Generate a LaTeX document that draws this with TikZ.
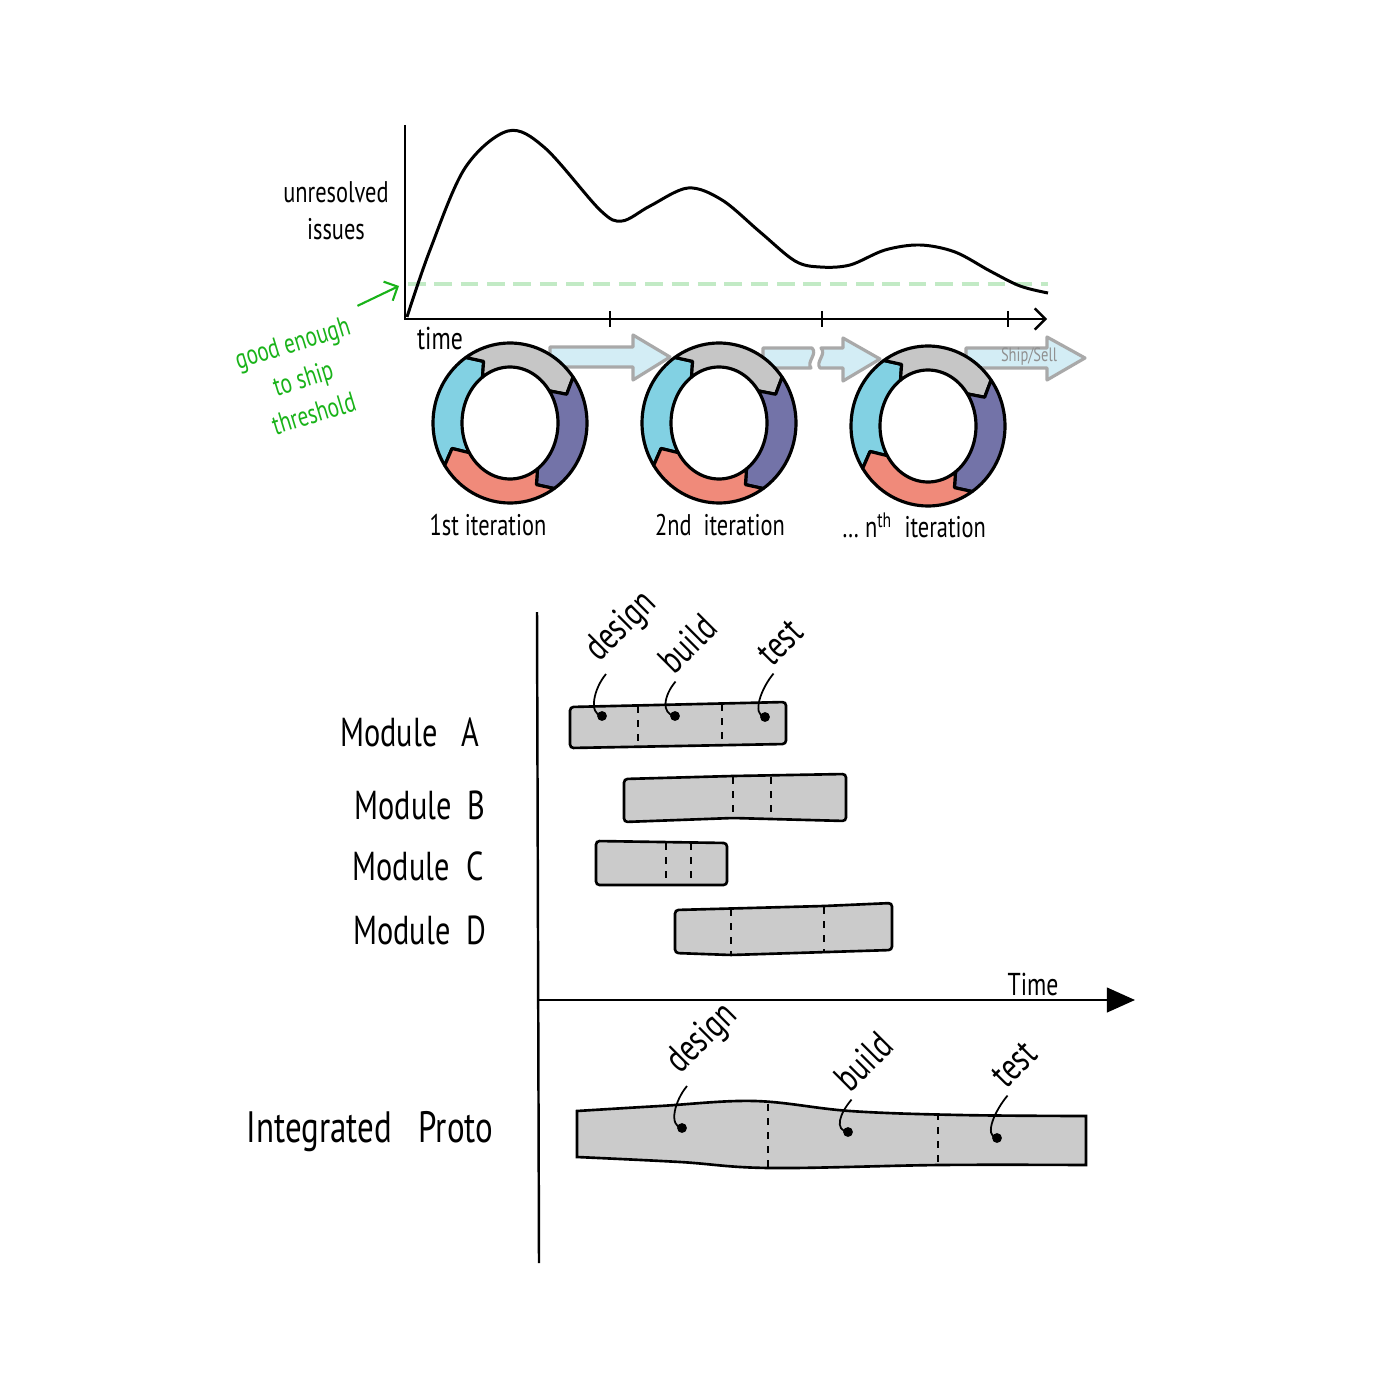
\documentclass[tikz,border=0pt]{standalone}
\usepackage{fontspec}
\setmainfont{PT Sans}
\usetikzlibrary{arrows.meta}
\definecolor{ringgray}{HTML}{C6C6C6}
\definecolor{ringblue}{HTML}{82D1E3}
\definecolor{ringpurple}{HTML}{7373A8}
\definecolor{ringsalmon}{HTML}{F08A7A}
\definecolor{flowfill}{HTML}{D3EDF5}
\definecolor{flowline}{HTML}{A9A9A9}
\definecolor{barfill}{HTML}{CBCBCB}
\definecolor{shipgreen}{HTML}{19B319}
\definecolor{threshgreen}{HTML}{C2EAC5}

% one quarter of an iteration ring, from angle #1 to #2
\newcommand{\ringpart}[3]{%
  \filldraw[fill=#3, ringline]
    plot[domain=#1:#2, samples=30] ({77*cos(\x)},{80*sin(\x)})
    -- ({62.5*cos(#2+10)},{68*sin(#2+10)})
    -- plot[domain=#2:#1, samples=30] ({48*cos(\x)},{56*sin(\x)})
    -- ({62.5*cos(#1+10)},{68*sin(#1+10)}) -- cycle;}
\newcommand{\iterring}[1]{%
  \begin{scope}[shift={(#1)}]
    \ringpart{148}{235}{ringblue}
    \ringpart{235}{325}{ringgray}
    \ringpart{325}{415}{ringpurple}
    \ringpart{415}{508}{ringsalmon}
  \end{scope}}

\begin{document}
\begin{tikzpicture}[%
    x = 0.1mm, y = -0.1mm,
    semithick,
    >= {Straight Barb[length=3pt, width=6pt]},
    hand/.style = {xscale=0.75, inner sep=1pt},
    note/.style = {hand, font=\fontsize{8.5}{11}\selectfont},
    module/.style = {hand, font=\fontsize{11.5}{13}\selectfont},
    phase/.style = {hand, font=\fontsize{11}{13}\selectfont},
    axis/.style = {line width=0.7pt},
    chartline/.style = {line width=0.85pt, line join=round},
    threshold/.style = {threshgreen, line width=0.9pt, dash pattern=on 5pt off 2.5pt},
    ringline/.style = {line width=0.9pt, line join=round},
    flow/.style = {fill=flowfill, draw=flowline, line width=0.9pt, line join=round},
    ganttbar/.style = {fill=barfill, draw=black, line width=0.75pt, rounded corners=1pt},
    divider/.style = {dash pattern=on 2pt off 2pt, line width=0.5pt},
    leader/.style = {line width=0.5pt}
  ]

  \fill[white] (0,0) rectangle (1379,1379);
  \useasboundingbox (0,0) rectangle (1379,1379);

  % issues over time
  \coordinate (O) at (405,319);
  \coordinate (ytop) at (405,125);
  \coordinate (tend) at (1047,319);
  \draw[axis, ->] (ytop) -- (O) -- (tend);
  \foreach \t in {610,822,1008}
    \draw[axis] (\t,311) -- (\t,327);
  \draw[threshold] (408,284) -- (1048,284);
  \draw[chartline] plot[smooth, tension=0.55] coordinates {(407,317) (430,250)
    (465,168) (508,131) (545,148) (600,210) (622,221) (650,206) (688,188)
    (722,200) (760,232) (795,261) (820,267) (850,265) (885,250) (920,245)
    (955,252) (990,271) (1020,286) (1048,293)};

  \node[note, font=\fontsize{8.5}{10.5}\selectfont, align=center] (issues) at (336,211) {unresolved\\issues};
  \node[note, font=\fontsize{9}{11}\selectfont] (time) at (440,338) {time};
  \node[rotate=17, hand, font=\fontsize{8}{10.5}\selectfont, text=shipgreen, align=center] (good) at (303,378) {good enough\\to ship\\threshold};
  \coordinate (thr) at (399,286);
  \draw[shipgreen, ->, shorten <=3pt] (good.north east) -- (thr);

  % flow between iterations
  \filldraw[flow] (550,347) -- (633,347) -- (633,335) -- (670,357) -- (633,380)
    -- (633,367) -- (550,367) -- cycle;
  \filldraw[flow] (763,348) -- (812,348) .. controls (818,354) and (806,362) .. (811,368)
    -- (763,368) -- cycle;
  \filldraw[flow] (821,348) -- (843,348) -- (843,338) -- (880,359) -- (843,381)
    -- (843,368) -- (820,368) .. controls (815,362) and (827,354) .. (821,348) -- cycle;
  \filldraw[flow] (966,348) -- (1047,348) -- (1047,337) -- (1085,358) -- (1047,380)
    -- (1047,368) -- (966,368) -- cycle;
  \node[hand, font=\fontsize{5.5}{6}\selectfont, text=flowline!85!black] (ship) at (1029,357) {Ship/Sell};

  \coordinate (R1) at (510,423);
  \coordinate (R2) at (719,423);
  \coordinate (R3) at (928,426);
  \iterring{R1}
  \iterring{R2}
  \iterring{R3}

  \node[note] (it1) at (488,525) {1st iteration};
  \node[note] (it2) at (720,525) {2nd\ \ iteration};
  \node[note] (itn) at (914,525) {\dots\ n\textsuperscript{th}\ \ iteration};

  % modules against time
  \coordinate (G) at (538,1000);
  \coordinate (gtop) at (537,612);
  \coordinate (gbot) at (539,1263);
  \coordinate (gend) at (1135,1000);
  \draw[axis] (gtop) -- (gbot);
  \draw[axis, -{Triangle[length=8pt, width=7pt]}] (G) -- (gend);
  \node[note, font=\fontsize{9}{11}\selectfont] (gtime) at (1033,984) {Time};

  \node[module] (modA) at (410,732) {Module\ \ \ A};
  \node[module] (modB) at (420,805) {Module\ \ B};
  \node[module] (modC) at (418,866) {Module\ \ C};
  \node[module] (modD) at (420,930) {Module\ \ D};
  \node[module, font=\fontsize{12.5}{14}\selectfont] (proto) at (370,1132) {Integrated\ \ \ Proto};

  \filldraw[ganttbar] (570,707) -- (786,702) -- (786,744) -- (570,748) -- cycle;
  \filldraw[ganttbar] (624,779) -- (733,776) -- (846,774) -- (846,821) -- (733,818) -- (624,822) -- cycle;
  \filldraw[ganttbar] (596,841) -- (727,843) -- (727,885) -- (596,885) -- cycle;
  \filldraw[ganttbar] (675,910) -- (824,906) -- (892,903) -- (892,950) -- (731,955) -- (675,953) -- cycle;
  \filldraw[ganttbar, rounded corners=0pt]
    plot[smooth, tension=0.6] coordinates {(577,1111) (660,1106) (755,1101)
      (850,1111) (960,1115) (1086,1116)}
    -- plot[smooth, tension=0.6] coordinates {(1086,1165) (940,1165) (770,1168)
      (680,1162) (577,1157)} -- cycle;

  \foreach \x/\a/\b in {638/706/746, 722/704/745, 733/777/819, 771/777/819,
      666/843/884, 691/843/884, 731/909/954, 824/907/952, 768/1104/1167, 938/1113/1165}
    \draw[divider] (\x,\a) -- (\x,\b);

  \foreach \n/\l/\d/\t in {a1/{597,665}/{602,716}/design, a2/{672,678}/{675,716}/build,
      a3/{770,670}/{765,717}/test, p1/{678,1077}/{682,1128}/design,
      p2/{848,1096}/{848,1132}/build, p3/{1004,1092}/{997,1138}/test} {
    \node[rotate=45, phase, anchor=base west] (l\n) at (\l) {\t};
    \coordinate (d\n) at (\d);
    \draw[leader] (l\n.south west) .. controls +(-12,14) and +(-14,-2) .. (d\n);
    \fill (d\n) circle (1.4pt);
  }

\end{tikzpicture}
\end{document}
